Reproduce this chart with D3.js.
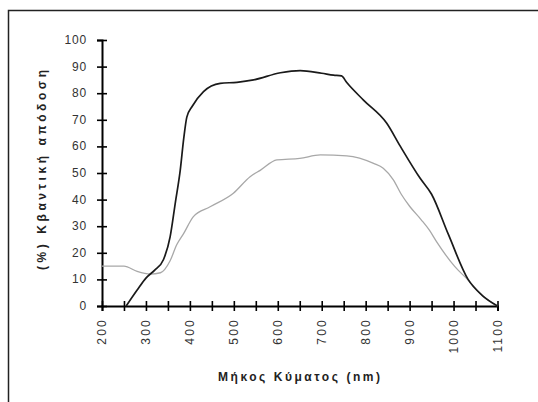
<!DOCTYPE html>
<html>
<head>
<meta charset="utf-8">
<script src="https://cdn.jsdelivr.net/npm/d3@7"></script>
<style>
  body { margin: 0; background: #fff; }
  text { font-family: Arial, "Liberation Sans", sans-serif; }
</style>
</head>
<body>
<div id="chart"></div>
<script>
// wavelength (nm) / quantum efficiency (%)
const darkNm  = [255, 280, 300, 320, 340, 355, 367, 378, 386, 393, 405, 431, 469, 507, 545, 606, 651, 700, 727, 745, 757, 795, 848, 879, 924, 950, 988, 1033, 1065, 1100];
const darkVal = [0, 6, 10.5, 13.5, 17.5, 26, 39, 51, 63, 71, 75, 80.6, 83.7, 84.1, 85, 87.7, 88.5, 87.5, 86.8, 86.5, 84, 77.4, 68.7, 60, 48, 42, 27, 10, 4, 0];

const grayNm  = [200, 250, 280, 310, 333, 355, 370, 386, 408, 446, 499, 537, 560, 598, 650, 697, 757, 818, 840, 863, 881, 900, 926, 945, 962, 1003, 1033, 1065, 1100];
const grayVal = [15, 15, 13, 12, 12.5, 17, 23, 27.3, 33.6, 37.3, 42.4, 48.6, 51, 54.9, 55.5, 56.8, 56.4, 53.6, 51.8, 47.4, 42, 37.5, 32.5, 28.5, 24, 14.8, 9.8, 4, 0];

const xLabels = [200, 300, 400, 500, 600, 700, 800, 900, 1000, 1100];
const xTicks  = d3.range(200, 1101, 50);
const yTicks  = [0, 10, 20, 30, 40, 50, 60, 70, 80, 90, 100];

const xTitle = "Μήκος Κύματος (nm)";
const yTitle = "(%) Κβαντική απόδοση";

const width = 538, height = 402;
const svg = d3.select("#chart").append("svg")
  .attr("width", width)
  .attr("height", height);

// outer frame (cut off at right/bottom like the scan)
svg.append("rect")
  .attr("x", 8.5).attr("y", 10.5)
  .attr("width", 560).attr("height", 420)
  .attr("fill", "none")
  .attr("stroke", "#222")
  .attr("stroke-width", 1.5);

const x = d3.scaleLinear().domain([200, 1100]).range([102, 497.5]);
const y = d3.scaleLinear().domain([0, 100]).range([306, 40]);

// x axis
const xAxis = svg.append("g")
  .attr("transform", "translate(0," + y(0) + ")")
  .call(d3.axisBottom(x).tickValues(xTicks).tickSize(5).tickFormat(""));
xAxis.select(".domain").attr("stroke", "#000").attr("stroke-width", 2);
xAxis.selectAll(".tick line")
  .attr("y1", -5).attr("y2", 5)
  .attr("stroke", "#000").attr("stroke-width", 1.6);

svg.append("g").selectAll("text")
  .data(xLabels)
  .enter().append("text")
  .attr("transform", d => "translate(" + (x(d) + 4) + "," + (y(0) + 12) + ") rotate(-90)")
  .attr("text-anchor", "end")
  .attr("font-size", 12)
  .attr("letter-spacing", 2.2)
  .attr("fill", "#333")
  .text(d => d);

// y axis
const yAxis = svg.append("g")
  .attr("transform", "translate(" + x(200) + ",0)")
  .call(d3.axisLeft(y).tickValues(yTicks).tickSize(5).tickFormat(""));
yAxis.select(".domain").attr("stroke", "#000").attr("stroke-width", 2);
yAxis.selectAll(".tick line")
  .attr("x1", -5).attr("x2", 5)
  .attr("stroke", "#000").attr("stroke-width", 1.6);

svg.append("g").selectAll("text")
  .data(yTicks)
  .enter().append("text")
  .attr("x", 87)
  .attr("y", d => y(d) + 4)
  .attr("text-anchor", "end")
  .attr("font-size", 12)
  .attr("letter-spacing", 0.8)
  .attr("fill", "#333")
  .text(d => d);

// titles
svg.append("text")
  .attr("x", 299).attr("y", 381)
  .attr("text-anchor", "middle")
  .attr("font-size", 12)
  .attr("font-weight", "bold")
  .attr("fill", "#222")
  .attr("textLength", 162)
  .attr("lengthAdjust", "spacing")
  .text(xTitle);

svg.append("text")
  .attr("transform", "translate(46,170) rotate(-90)")
  .attr("text-anchor", "middle")
  .attr("font-size", 12)
  .attr("font-weight", "bold")
  .attr("fill", "#222")
  .attr("textLength", 200)
  .attr("lengthAdjust", "spacing")
  .text(yTitle);

// series
const line = d3.line()
  .x(d => x(d[0]))
  .y(d => y(d[1]))
  .curve(d3.curveMonotoneX);

svg.append("path")
  .datum(d3.zip(grayNm, grayVal))
  .attr("fill", "none")
  .attr("stroke", "#a8a8a8")
  .attr("stroke-width", 1.3)
  .attr("d", line);

svg.append("path")
  .datum(d3.zip(darkNm, darkVal))
  .attr("fill", "none")
  .attr("stroke", "#1a1a1a")
  .attr("stroke-width", 1.7)
  .attr("d", line);
</script>
</body>
</html>
